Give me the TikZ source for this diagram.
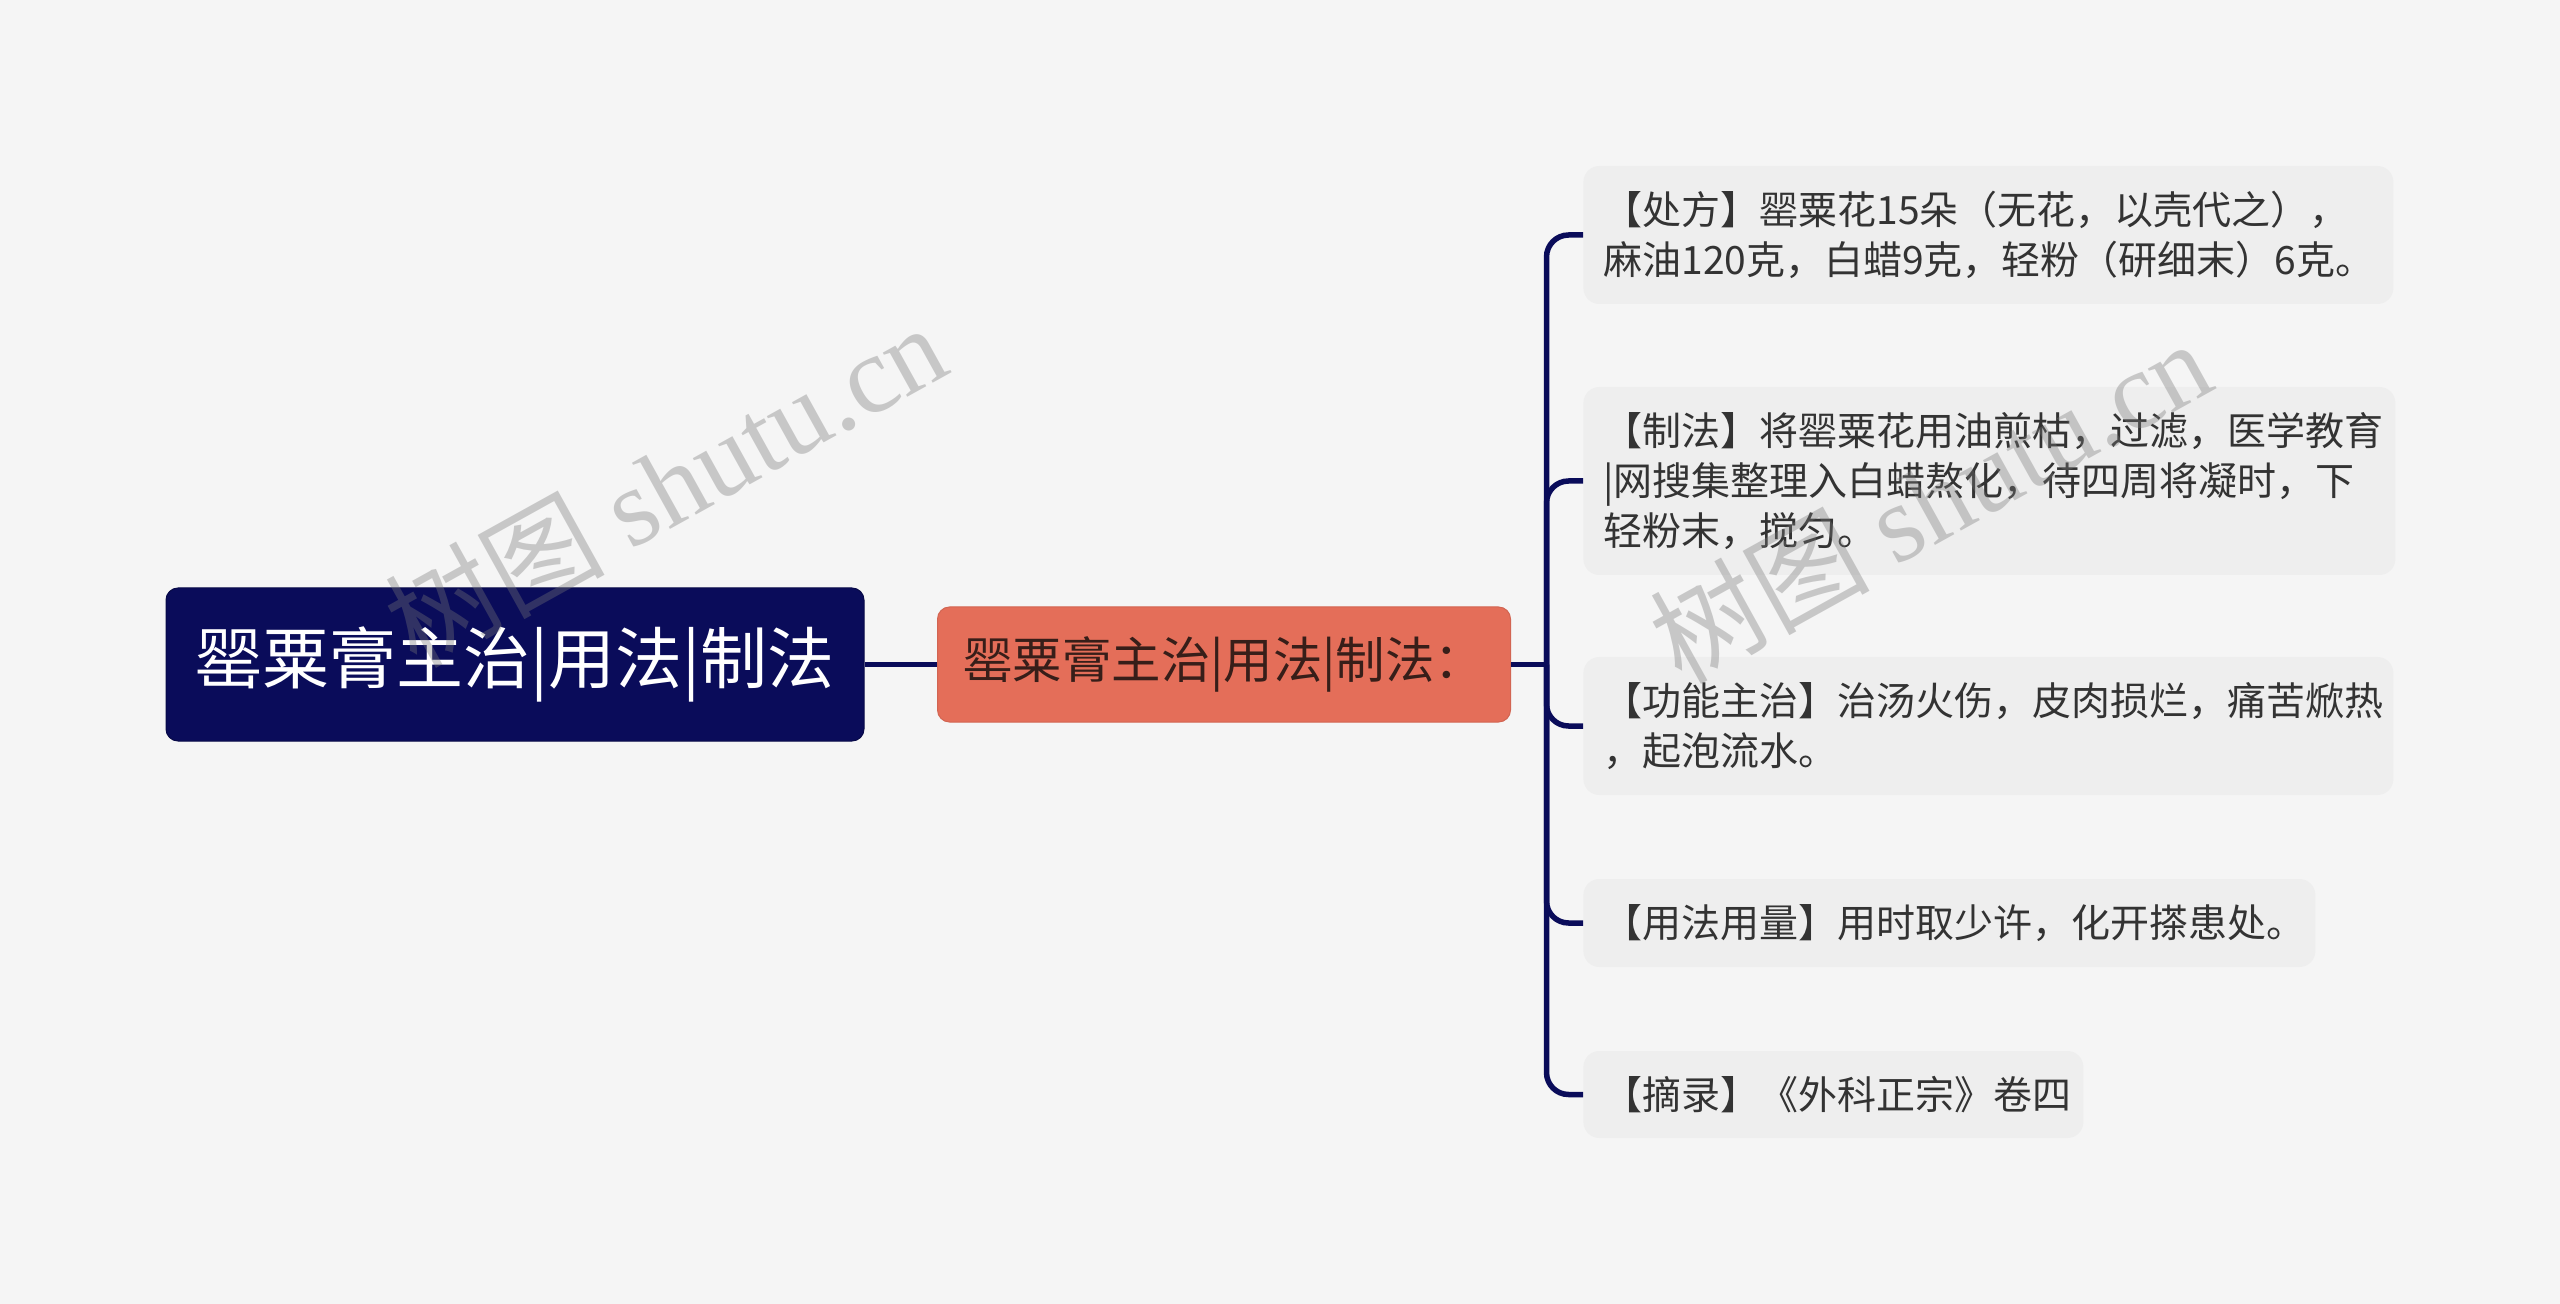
\documentclass[tikz,border=0pt]{standalone}
\usepackage{fontspec}
\setmainfont{Noto Sans CJK SC}
\newfontfamily\wmlat{Liberation Serif}
\newfontfamily\wmcjk{Noto Sans CJK SC}
\definecolor{bgcol}{RGB}{245,245,245}
\definecolor{navy}{RGB}{10,12,90}
\definecolor{coral}{RGB}{228,110,89}
\definecolor{leaffill}{RGB}{238,238,238}
\definecolor{leaftext}{RGB}{51,51,51}
\definecolor{coraltext}{RGB}{55,30,25}
\definecolor{wmcol}{RGB}{120,120,120}
\begin{document}
\begin{tikzpicture}[x=0.5pt,y=-0.5pt,
  rootbox/.style={fill=navy, draw=navy!80!black, line width=0.5pt, rounded corners=6pt,
    text=white, minimum width=349pt, minimum height=76.5pt, inner sep=0pt,
    font=\fontsize{33.5pt}{40pt}\selectfont},
  midbox/.style={fill=coral, draw=coral!92!black, line width=0.5pt, rounded corners=6pt,
    text=coraltext, minimum height=57.5pt, text width=260.5pt, align=left,
    inner xsep=13pt, inner ysep=0pt, font=\fontsize{24.7pt}{30pt}\selectfont},
  leafbox/.style={fill=leaffill, rounded corners=8pt, text=leaftext, align=left,
    inner xsep=10pt, inner ysep=0pt, anchor=west,
    font=\fontsize{19.5pt}{25pt}\selectfont},
  link/.style={draw=navy, line width=2.75pt},
  branch/.style={link, rounded corners=11pt},
  watermark/.style={rotate=29, text=wmcol, opacity=0.36, inner sep=0pt,
    font=\fontsize{55pt}{60pt}\selectfont}
]
\useasboundingbox (0,0) rectangle (2560,1304);
\fill[bgcol] (0,0) rectangle (2560,1304);

\node[rootbox] (root) at (515,664.5) {罂粟膏主治|用法|制法};
\node[midbox, anchor=west] (mid) at (937,664.5) {罂粟膏主治|用法|制法：};
\coordinate (hub) at (1546.5,664.5);

\node[leafbox, text width=385pt, minimum height=69pt] (l1) at (1583,235)
  {【处方】罂粟花15朵（无花，以壳代之），\\麻油120克，白蜡9克，轻粉（研细末）6克。};
\node[leafbox, text width=386pt, minimum height=94pt] (l2) at (1583,481)
  {【制法】将罂粟花用油煎枯，过滤，医学教育\\|网搜集整理入白蜡熬化，待四周将凝时，下\\轻粉末，搅匀。};
\node[leafbox, text width=385pt, minimum height=69pt] (l3) at (1583,726)
  {【功能主治】治汤火伤，皮肉损烂，痛苦焮热\\，起泡流水。};
\node[leafbox, text width=346pt, minimum height=44pt] (l4) at (1583,923)
  {【用法用量】用时取少许，化开搽患处。};
\node[leafbox, text width=230pt, minimum height=43.5pt] (l5) at (1583,1094.5)
  {【摘录】《外科正宗》卷四};

\draw[link] (root.east) -- (mid.west);
\draw[link] (mid.east) -- (hub);
\foreach \n in {l1,l2,l3,l4,l5} \draw[branch] (hub) |- (\n.west);

\node[watermark] (wm1) at (665,484) {\wmcjk 树图 \wmlat shutu.cn};
\node[watermark] (wm2) at (1930,500) {\wmcjk 树图 \wmlat shutu.cn};
\end{tikzpicture}
\end{document}
